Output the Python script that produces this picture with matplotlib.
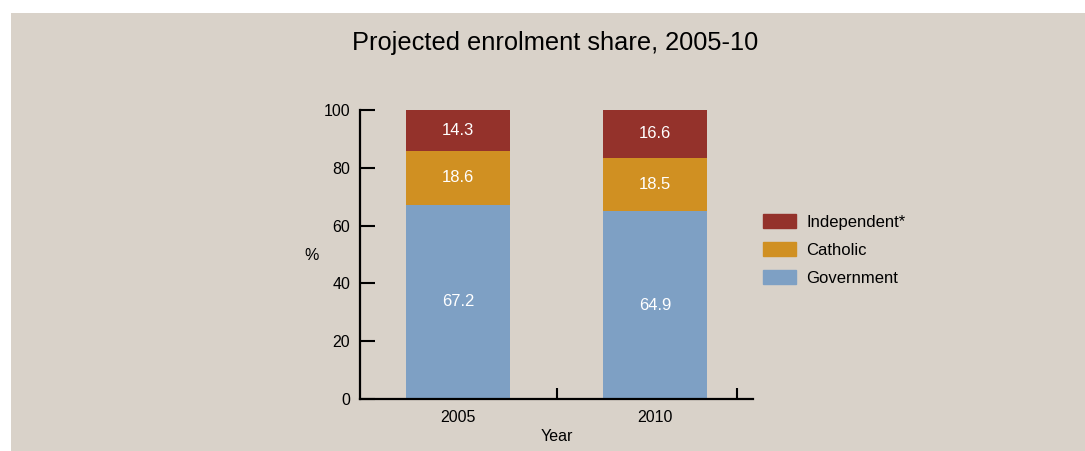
import matplotlib.pyplot as plt
from matplotlib.patches import Rectangle, Patch

plt.rcParams['font.family'] = ['Liberation Sans', 'DejaVu Sans']

# Data
years = ['2005', '2010']
government = [67.2, 64.9]
catholic = [18.6, 18.5]
independent = [14.3, 16.6]
series_names = ['Independent*', 'Catholic', 'Government']
y_ticks = [0, 20, 40, 60, 80, 100]

bg = '#d9d2c9'
c_gov = '#7ea0c4'
c_cath = '#d09022'
c_ind = '#94322b'

fig = plt.figure(figsize=(10.85, 4.51), dpi=100, facecolor='white')
fig.patches.append(Rectangle((11 / 1085, 0), 1, 1 - 13 / 451, transform=fig.transFigure,
                             facecolor=bg, edgecolor='none', zorder=-10))

ax = fig.add_axes([360 / 1085, 1 - 399 / 451, (753 - 360) / 1085, (399 - 110) / 451])
ax.set_facecolor('none')

x = list(range(len(years)))
w = 0.528
ax.bar(x, government, width=w, color=c_gov)
ax.bar(x, catholic, width=w, bottom=government, color=c_cath)
bottom2 = [g + c for g, c in zip(government, catholic)]
ax.bar(x, independent, width=w, bottom=bottom2, color=c_ind)

for i in x:
    ax.text(i, government[i] / 2, f'{government[i]:.1f}', ha='center', va='center',
            color='white', fontsize=12)
    ax.text(i, government[i] + catholic[i] / 2, f'{catholic[i]:.1f}', ha='center',
            va='center', color='white', fontsize=12)
    ax.text(i, bottom2[i] + independent[i] / 2, f'{independent[i]:.1f}', ha='center',
            va='center', color='white', fontsize=12)

ax.set_xlim(-0.497, 1.497)
ax.set_ylim(0, 100)
ax.set_yticks(y_ticks)
ax.set_xticks(x)
ax.set_xticklabels(years)
ax.set_xticks([0.503, 1.416], minor=True)
ax.tick_params(axis='x', which='major', length=0, pad=8, labelsize=11.5)
ax.tick_params(axis='x', which='minor', direction='in', length=8, width=1.5)
ax.tick_params(axis='y', direction='in', length=11, width=1.5, pad=7, labelsize=11.5)

for s in ['top', 'right']:
    ax.spines[s].set_visible(False)
for s in ['left', 'bottom']:
    ax.spines[s].set_linewidth(1.6)

ax.set_xlabel('Year', fontsize=11.5, labelpad=3)
fig.text(312 / 1085, 1 - 255 / 451, '%', ha='center', va='center', fontsize=11.5)

fig.text(555 / 1085, 1 - 43 / 451, 'Projected enrolment share, 2005-10', ha='center',
         va='center', fontsize=18.3)

handles = [Patch(color=c_ind), Patch(color=c_cath), Patch(color=c_gov)]
fig.legend(handles, series_names, loc='center left', bbox_to_anchor=(748 / 1085, 1 - 250 / 451),
           frameon=False, fontsize=12, handlelength=2.0, handleheight=0.85,
           labelspacing=0.75, handletextpad=0.6)

fig.savefig('out.png', dpi=100, facecolor='white')
